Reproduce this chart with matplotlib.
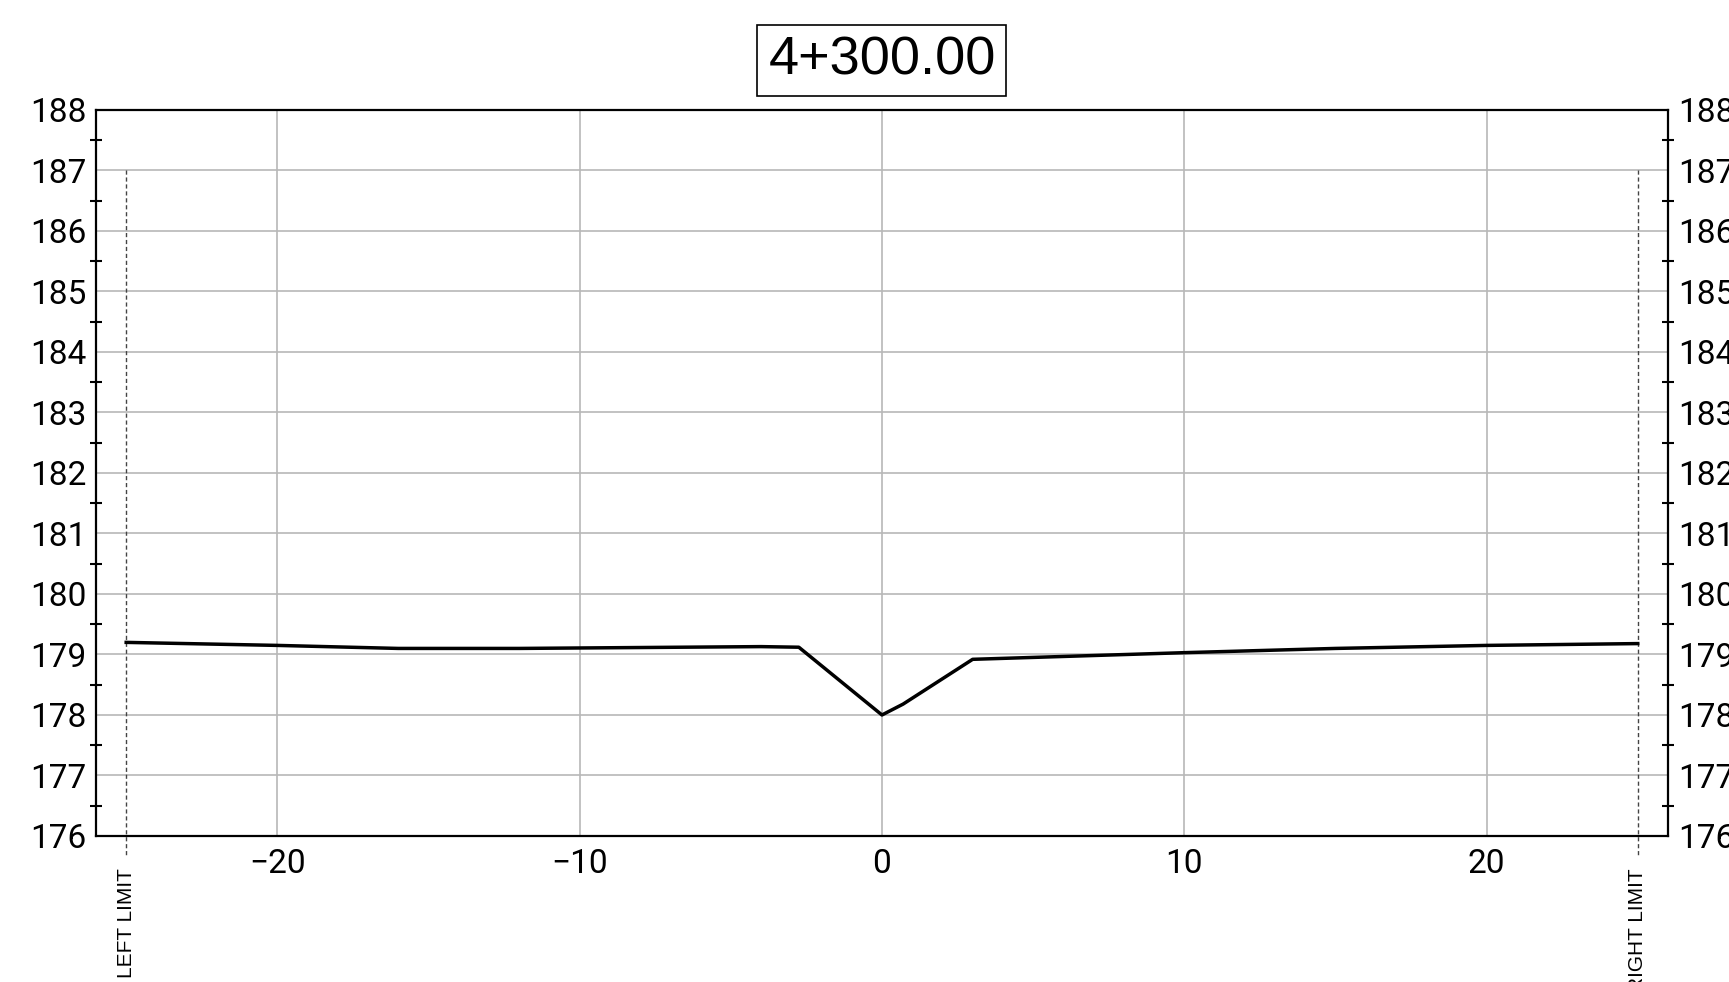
import matplotlib.pyplot as plt
import numpy as np

station = "4+300.00"

# ground profile: offset (m) vs elevation (m)
offset = [-25, -20, -16, -12, -4, -2.75, 0, 0.7, 3.0, 10, 15, 20, 25]
elev = [179.20, 179.15, 179.10, 179.10, 179.13, 179.12, 178.00, 178.18, 178.92, 179.03, 179.10, 179.15, 179.18]

limits = [-25, 25]
limit_labels = ["LEFT LIMIT", "RIGHT LIMIT"]
limit_top = 187

xticks = [-20, -10, 0, 10, 20]
yticks = list(range(176, 189))

plt.rcParams['font.family'] = ['Roboto', 'DejaVu Sans']

fig = plt.figure(figsize=(17.29, 9.82), dpi=100)
ax = fig.add_axes([0.0555, 0.1487, 0.9092, 0.7393])

ax.set_xlim(-26, 26)
ax.set_ylim(176, 188)
ax.set_xticks(xticks)
ax.set_yticks(yticks)
ax.set_yticks(np.arange(176.5, 188, 1), minor=True)
ax.set_xticklabels([str(v).replace("-", "\u2212") for v in xticks])

ax.grid(True, which="major", color="#b8b8b8", linewidth=1.2)
ax.set_axisbelow(True)

for s in ax.spines.values():
    s.set_linewidth(1.6)
    s.set_color("black")

ax.tick_params(axis="both", which="major", length=0, labelsize=24, pad=9)
ax.tick_params(axis="y", which="major", labelright=True, right=True, pad=7)
ax.tick_params(axis="y", which="minor", left=True, right=True, direction="inout",
               length=9, width=1.5)
ax.tick_params(axis="x", which="minor", bottom=False)

ax.plot(offset, elev, color="black", linewidth=2.5, zorder=3)

for xl, txt in zip(limits, limit_labels):
    ax.plot([xl, xl], [limit_top, 175.66], color="#444444", linewidth=1.0,
            linestyle=(0, (3, 2)), clip_on=False, zorder=2)
    ax.text(xl, 175.47, txt, rotation=90, ha="center", va="top", fontsize=15,
            family=["Liberation Sans", "DejaVu Sans"])

ax.text(0.5, 1.068, station, transform=ax.transAxes, ha="center", va="center",
        fontsize=39, family=["Liberation Sans", "DejaVu Sans"],
        bbox=dict(boxstyle="square,pad=0.2", facecolor="white", edgecolor="black", linewidth=1.2))

fig.savefig("out.png", dpi=100)
